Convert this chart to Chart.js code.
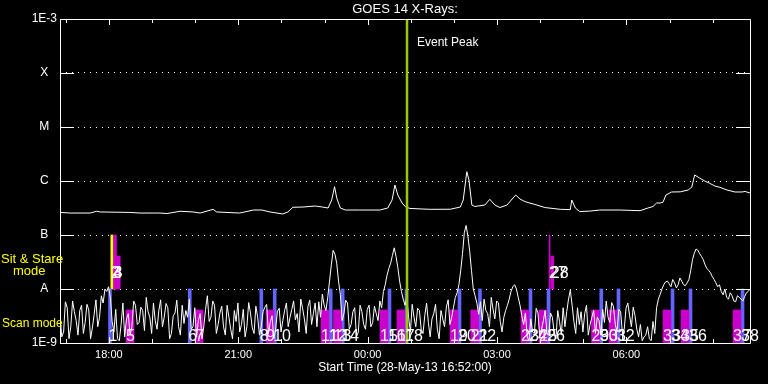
<!DOCTYPE html>
<html>
<head>
<meta charset="utf-8">
<script src="https://cdn.jsdelivr.net/npm/chart.js@4.4.0/dist/chart.umd.min.js"></script>
<style>
  html, body { margin: 0; padding: 0; background: #000; }
</style>
</head>
<body>
<canvas id="goes" width="768" height="384"></canvas>
<script>
// Times are minutes after the start (28-May-13 16:52:00), fluxes in units of 1E-9 W/m^2
const titleText = 'GOES 14 X-Rays:';
const startText = 'Start Time (28-May-13 16:52:00)';
const spanMinutes = 960;

const hourTicks = [8, 68, 128, 188, 248, 308, 368, 428, 488, 548, 608, 668, 728, 788, 848, 908];
const xLabelTimes = [68, 248, 428, 608, 788];
const xLabels = ['18:00', '21:00', '00:00', '03:00', '06:00'];

const yTickValues = [1, 10, 100, 1000, 10000, 100000, 1000000];
const yTickLabels = ['1E-9', 'A', 'B', 'C', 'M', 'X', '1E-3'];

// 1-8 A channel
const longTimes = [0, 14, 42, 51, 56, 97, 111, 139, 149, 167, 185, 195, 213, 218, 250, 269, 281, 292, 310, 317,
  324, 338, 355, 365, 373, 378, 382, 385, 390, 397, 417, 445, 456, 462, 466, 470, 476, 481, 487, 515,
  543, 557, 561, 566, 569, 573, 577, 591, 598, 605, 612, 622, 629, 634, 640, 647, 661, 675, 696, 710,
  712, 717, 723, 737, 751, 779, 807, 818, 825, 830, 835, 839, 843, 851, 863, 874, 879, 883, 890, 897,
  904, 911, 918, 928, 939, 949, 953, 960];
const longFlux = [262, 255, 255, 275, 267, 262, 255, 255, 250, 275, 267, 255, 299, 267, 255, 290, 290, 267, 245, 267,
  326, 330, 344, 330, 316, 445, 784, 484, 316, 290, 290, 290, 316, 445, 843, 550, 391, 330, 310, 299,
  300, 330, 445, 1486, 1044, 359, 337, 359, 458, 359, 322, 359, 464, 550, 464, 414, 367, 322, 299, 295,
  445, 316, 272, 277, 290, 290, 282, 316, 337, 391, 391, 406, 550, 626, 630, 681, 770, 1291, 1130, 1000,
  906, 808, 764, 681, 626, 626, 640, 600];

// 0.5-4 A channel, one reading every 2.5 minutes
const shortStep = 2.5;
const shortFlux = [
  3.2, 1.3, 1.6, 5.8, 4.5, 1.2, 2.0, 6.0, 3.8, 2.6, 1.4, 4.0,
  5.0, 1.5, 2.4, 5.2, 4.1, 1.2, 1.9, 3.4, 6.3, 2.0, 3.0, 7.5,
  5.5, 10, 9.0, 11, 7.0, 2.5, 1.6, 4.2, 1.2, 1.1, 2.2, 5.5,
  1.3, 2.8, 3.5, 1.4, 2.0, 6.0, 5.0, 2.2, 2.4, 4.6, 4.0, 1.7,
  7.0, 3.8, 3.0, 1.5, 5.5, 2.6, 1.8, 4.0, 6.3, 2.0, 3.0, 5.4,
  4.5, 1.2, 1.5, 3.2, 3.6, 6.2, 2.0, 1.4, 5.0, 2.3, 4.0, 3.0,
  6.5, 1.8, 2.0, 4.5, 1.3, 2.6, 3.5, 1.2, 2.0, 4.2, 7.5, 2.5,
  3.0, 6.0, 5.0, 1.5, 2.2, 3.6, 4.8, 2.0, 1.4, 5.0, 3.0, 1.8,
  1.2, 4.0, 2.5, 5.5, 1.6, 2.2, 4.2, 1.3, 2.0, 5.6, 3.6, 1.9,
  1.5, 4.8, 3.0, 1.4, 2.0, 3.8, 4.6, 5.2, 1.5, 2.4, 3.2, 1.2,
  1.8, 3.9, 4.4, 1.6, 2.6, 4.0, 5.5, 2.0, 3.0, 4.2, 6.0, 2.7,
  3.5, 1.6, 6.5, 4.4, 2.8, 1.5, 4.8, 6.2, 2.2, 3.5, 5.5, 2.0,
  5.8, 3.0, 8.0, 5.0, 4.0, 7.0, 14, 28, 52, 44, 30, 14,
  8.0, 2.6, 3.5, 6.2, 5.5, 1.8, 2.2, 3.8, 4.5, 1.3, 1.6, 5.0,
  3.8, 2.2, 1.8, 4.2, 5.0, 2.0, 2.4, 4.8, 3.5, 2.6, 6.0, 4.5,
  9.0, 12, 18, 24, 30, 42, 58, 40, 25, 14, 9.0, 6.5,
  5.0, 7.2, 3.0, 1.6, 5.2, 3.0, 2.0, 4.4, 4.0, 1.8, 1.5, 3.2,
  5.5, 2.4, 1.3, 2.8, 3.5, 5.2, 1.8, 1.2, 4.0, 2.8, 2.0, 4.6,
  6.3, 2.2, 3.0, 4.6, 7.0, 8.5, 12, 22, 45, 110, 150, 95,
  50, 22, 10, 7.5, 5.5, 3.4, 5.8, 2.6, 6.5, 4.0, 3.5, 2.0,
  7.0, 4.2, 2.8, 6.0, 5.5, 2.5, 1.6, 3.0, 4.0, 5.0, 6.5, 9.0,
  11, 12, 10, 7.0, 5.0, 3.2, 2.2, 3.6, 1.3, 1.1, 2.8, 1.6,
  1.5, 4.4, 3.6, 1.3, 1.8, 2.6, 4.0, 1.5, 1.4, 3.6, 3.0, 1.6,
  1.2, 4.0, 2.5, 1.4, 4.5, 2.0, 3.8, 6.5, 9.5, 5.0, 2.5, 1.5,
  4.5, 2.2, 3.8, 1.6, 3.5, 5.0, 1.4, 2.2, 3.0, 4.0, 1.5, 3.0,
  2.6, 1.4, 4.2, 2.4, 6.0, 3.0, 2.4, 5.6, 4.8, 2.2, 1.6, 4.2,
  3.8, 1.5, 1.8, 4.4, 5.5, 3.2, 2.0, 4.6, 3.2, 1.8, 1.3, 2.2,
  1.1, 1.3, 1.4, 2.0, 1.2, 1.1, 2.5, 1.5, 4.5, 6.5, 8.0, 10,
  12, 13.5, 14, 12.5, 11, 15, 13, 10.5, 12, 16, 14, 12,
  11.5, 13, 15, 22, 35, 46, 55, 52, 45, 40, 35, 28,
  24, 22, 20, 17, 15, 13, 11, 12, 9.0, 7.8, 10, 7.0,
  6.5, 8.5, 7.5, 6.0, 5.8, 7.5, 7.0, 6.5, 6.0, 7.2, 8.5, 9.0,
  10
];

// scan mode observations
const scanMagentaTimes = [97.4, 193.4, 292.2, 368.7, 386.1, 450.8, 474.4, 548.2, 577.0, 647.0, 672.0, 745.0, 769.4, 844.5, 869.6, 941.9];
const scanMagentaIds = [5, 7, 9, 11, 13, 15, 17, 19, 21, 23, 25, 29, 31, 33, 35, 37];
const scanMagentaTop = 4.08;
const scanBlueTimes = [69.6, 180.5, 280.1, 298.7, 376.6, 393.3, 458.4, 482.1, 555.8, 584.3, 654.6, 679.7, 753.1, 777.0, 852.2, 877.2, 949.6];
const scanBlueIds = [1, 6, 8, 10, 12, 14, 16, 18, 20, 22, 24, 26, 30, 32, 34, 36, 38];
const scanBlueTop = 10;

// sit & stare observations
const stareTimes = [72.1, 76.5, 78.9, 681.1, 684.9];
const stareIds = [2, 3, 4, 27, 28];
const stareTops = [100, 100, 40.8, 100, 40.8];
const stareBase = 10;

const eventPeakTime = 482.8;

// styles
const FONT = '"Liberation Sans", Arial, sans-serif';
const MAGENTA = '#cc00cc';
const BLUE = '#6464ff';
const YELLOW = '#ffff00';
const stareColors = [YELLOW, MAGENTA, MAGENTA, MAGENTA, MAGENTA];
const stareWidths = [2, 3, 7, 1, 3];

Chart.defaults.font.family = FONT;
Chart.defaults.color = '#fff';

function barSet(times, ids, lo, hi, color, width, labelY) {
  return {
    type: 'bar',
    data: times.map(t => ({ x: t, y: [lo, hi] })),
    backgroundColor: color,
    borderWidth: 0,
    barThickness: width,
    grouped: false,
    order: 3,
    ids: ids,
    labelY: labelY
  };
}

const datasets = [
  {
    type: 'line',
    data: longTimes.map((t, i) => ({ x: t, y: longFlux[i] })),
    borderColor: '#fff', borderWidth: 1, pointRadius: 0, tension: 0, order: 1
  },
  {
    type: 'line',
    data: shortFlux.map((v, i) => ({ x: i * shortStep, y: v })),
    borderColor: '#fff', borderWidth: 1, pointRadius: 0, tension: 0, order: 1
  },
  {
    type: 'line',
    data: [{ x: eventPeakTime, y: yTickValues[0] }, { x: eventPeakTime, y: yTickValues[6] }],
    borderColor: '#99cc00', borderWidth: 2.5, pointRadius: 0, order: 0
  },
  barSet(scanMagentaTimes, scanMagentaIds, 1, scanMagentaTop, MAGENTA, 8, 341),
  barSet(scanBlueTimes, scanBlueIds, 1, scanBlueTop, BLUE, 3, 341)
];
stareTimes.forEach((t, i) => {
  datasets.push(barSet([t], [stareIds[i]], stareBase, stareTops[i], stareColors[i], stareWidths[i], 278));
});

const decorations = {
  id: 'decorations',
  afterDatasetsDraw(chart) {
    const { ctx, chartArea: a, scales: { x, y } } = chart;
    ctx.save();
    ctx.strokeStyle = '#fff';
    ctx.lineWidth = 1;
    ctx.beginPath();
    ctx.rect(a.left + 0.5, a.top + 0.5, a.right - a.left, a.bottom - a.top);
    // inner ticks on the flux axis
    yTickValues.slice(1, -1).forEach(v => {
      const py = Math.round(y.getPixelForValue(v)) + 0.5;
      ctx.moveTo(a.left, py); ctx.lineTo(a.left + 14, py);
      ctx.moveTo(a.right - 14, py); ctx.lineTo(a.right + 1, py);
    });
    // inner ticks on the time axis
    hourTicks.forEach(t => {
      const px = Math.round(x.getPixelForValue(t)) + 0.5;
      const len = xLabelTimes.includes(t) ? 6 : 4;
      ctx.moveTo(px, a.top); ctx.lineTo(px, a.top + len);
      ctx.moveTo(px, a.bottom); ctx.lineTo(px, a.bottom - len);
    });
    ctx.stroke();

    // observation numbers
    ctx.fillStyle = '#fff';
    ctx.font = '16px ' + FONT;
    ctx.textAlign = 'left';
    ctx.textBaseline = 'alphabetic';
    chart.data.datasets.forEach((ds, i) => {
      if (!ds.ids) return;
      chart.getDatasetMeta(i).data.forEach((el, j) => {
        ctx.fillText(String(ds.ids[j]), el.x - el.width / 2, ds.labelY);
      });
    });

    // event marker text
    ctx.font = '12px ' + FONT;
    ctx.textBaseline = 'middle';
    ctx.fillText('Event Peak', x.getPixelForValue(eventPeakTime) + 10, 43);

    // mode captions
    ctx.fillStyle = YELLOW;
    ctx.font = '13px ' + FONT;
    ctx.fillText('Sit & Stare', 1, 259);
    ctx.fillText('mode', 13, 271);
    ctx.font = '12px ' + FONT;
    ctx.fillText('Scan mode', 2, 324);
    ctx.restore();
  }
};

new Chart(document.getElementById('goes'), {
  type: 'line',
  data: { datasets },
  options: {
    responsive: false,
    animation: false,
    events: [],
    layout: { padding: { left: 0, right: 18, top: 0, bottom: 0 } },
    plugins: {
      legend: { display: false },
      tooltip: { enabled: false },
      title: {
        display: true,
        text: titleText,
        color: '#fff',
        fullSize: false,
        font: { size: 13, weight: 'normal' },
        padding: { top: 2, bottom: 1.4 }
      }
    },
    scales: {
      x: {
        type: 'linear',
        min: 0,
        max: spanMinutes,
        offset: false,
        afterBuildTicks: s => { s.ticks = hourTicks.map(v => ({ value: v })); },
        afterFit: s => { s.height = 41; },
        ticks: {
          color: '#fff',
          font: { size: 11 },
          padding: 5,
          autoSkip: false,
          maxRotation: 0,
          callback: v => {
            const k = xLabelTimes.indexOf(v);
            return k < 0 ? '' : xLabels[k];
          }
        },
        grid: { display: false, drawTicks: false },
        border: { display: false },
        title: {
          display: true,
          text: startText,
          color: '#fff',
          font: { size: 12 },
          padding: { top: 0, bottom: 9 }
        }
      },
      y: {
        type: 'logarithmic',
        min: yTickValues[0],
        max: yTickValues[6],
        afterBuildTicks: s => { s.ticks = yTickValues.map(v => ({ value: v })); },
        afterFit: s => { s.width = 60; },
        ticks: {
          color: '#fff',
          font: { size: 12 },
          padding: 3,
          crossAlign: 'center',
          callback: (v, i) => yTickLabels[i]
        },
        grid: { color: '#fff', lineWidth: 1, drawTicks: false },
        border: { display: false, dash: [1, 5] }
      }
    }
  },
  plugins: [decorations]
});
</script>
</body>
</html>
